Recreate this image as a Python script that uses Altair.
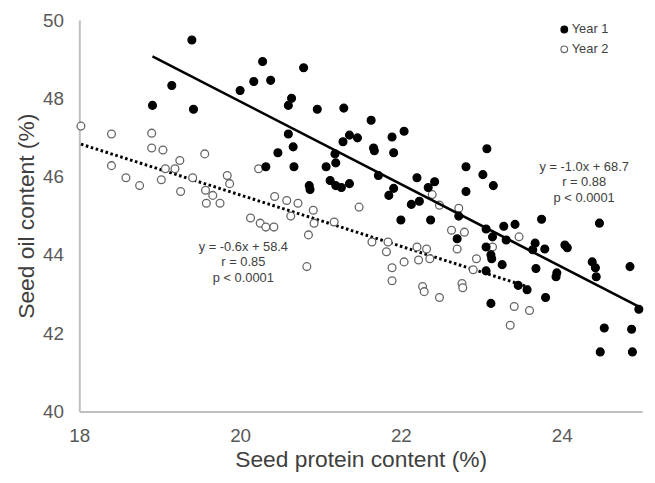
import altair as alt
import pandas as pd

# ---- data ----
series_names = ["Year 1", "Year 2"]

year1_protein = [19.40, 19.15, 18.91, 19.42, 20.00, 20.17, 20.28, 20.38, 20.79, 20.64,
                 20.60, 20.96, 21.29, 21.63, 22.04, 21.89, 21.36, 21.46, 21.28, 20.60,
                 20.66, 20.47, 21.66, 21.67, 21.91, 21.18, 21.19, 20.32, 20.67, 21.07,
                 20.86, 20.87, 21.12, 21.19, 21.26, 21.36, 21.72, 21.91, 21.85, 22.20,
                 22.42, 22.34, 22.23, 22.13, 22.00, 22.37, 22.81, 23.07, 23.02, 23.15,
                 22.81, 22.72, 22.70, 23.06, 23.28, 23.42, 23.14, 23.06, 23.12, 23.13,
                 23.31, 23.26, 23.06, 23.75, 23.67, 23.64, 23.79, 24.04, 24.07, 24.47,
                 23.68, 23.94, 23.93, 24.38, 24.42, 24.43, 24.85, 23.46, 23.57, 23.80,
                 23.12, 24.96, 24.53, 24.87, 24.48, 24.88]
year1_oil = [49.49, 48.33, 47.82, 47.72, 48.20, 48.43, 48.94, 48.46, 48.78, 48.00,
             47.82, 47.72, 47.75, 47.44, 47.16, 47.01, 47.06, 46.99, 46.89, 47.09,
             46.76, 46.61, 46.73, 46.66, 46.61, 46.58, 46.35, 46.25, 46.25, 46.25,
             45.77, 45.67, 45.90, 45.77, 45.72, 45.82, 46.03, 45.70, 45.52, 45.97,
             45.87, 45.72, 45.37, 45.29, 44.89, 44.89, 46.25, 46.71, 46.05, 45.77,
             45.62, 44.99, 44.41, 44.66, 44.73, 44.78, 44.46, 44.20, 44.00, 43.90,
             44.38, 43.75, 43.59, 44.91, 44.30, 44.13, 44.15, 44.25, 44.18, 44.81,
             43.65, 43.54, 43.44, 43.82, 43.67, 43.44, 43.70, 43.22, 43.11, 42.91,
             42.76, 42.61, 42.13, 42.10, 41.52, 41.52]

year2_protein = [18.02, 18.40, 18.90, 18.90, 19.04, 18.40, 18.58, 18.75, 19.02, 19.07,
                 19.19, 19.25, 19.26, 19.41, 19.56, 19.57, 19.58, 19.66, 19.75, 19.84,
                 19.87, 20.23, 20.13, 20.25, 20.32, 20.42, 20.43, 20.58, 20.63, 20.72,
                 20.91, 20.85, 20.92, 20.83, 21.17, 21.48, 21.64, 21.84, 21.82, 21.89,
                 21.89, 22.04, 22.20, 22.32, 22.22, 22.36, 22.27, 22.29, 22.48, 22.63,
                 22.79, 22.70, 22.76, 22.77, 22.94, 22.90, 23.14, 23.47, 23.41, 23.60,
                 23.36, 22.48, 22.72, 22.39]
year2_oil = [47.29, 47.09, 47.11, 46.73, 46.68, 46.28, 45.97, 45.77, 45.92, 46.20,
             46.20, 46.41, 45.62, 45.97, 46.58, 45.65, 45.32, 45.52, 45.32, 46.03,
             45.82, 46.20, 44.94, 44.81, 44.71, 44.71, 45.49, 45.39, 44.99, 45.32,
             45.14, 44.51, 44.81, 43.70, 44.84, 45.22, 44.33, 44.33, 44.08, 43.67,
             43.34, 43.82, 44.20, 44.15, 43.87, 43.90, 43.19, 43.06, 42.91, 44.63,
             44.58, 44.15, 43.27, 43.16, 43.90, 43.62, 44.20, 44.46, 42.68, 42.58,
             42.20, 45.27, 45.19, 45.54]

x_ticks = [18, 20, 22, 24]
y_ticks = [40, 42, 44, 46, 48, 50]

year1_stats = ["y = -1.0x + 68.7", "r = 0.88", "p < 0.0001"]
year2_stats = ["y = -0.6x + 58.4", "r = 0.85", "p < 0.0001"]

# ---- tables ----
df = pd.concat([
    pd.DataFrame({"protein": year2_protein, "oil": year2_oil, "year": series_names[1]}),
    pd.DataFrame({"protein": year1_protein, "oil": year1_oil, "year": series_names[0]}),
], ignore_index=True)

ann = pd.DataFrame({
    "x": [24.28] * 3 + [20.04] * 3,
    "y": [46.25, 45.85, 45.44, 44.20, 43.82, 43.42],
    "label": year1_stats + year2_stats,
})

FONT = "Liberation Sans"
x_scale = alt.Scale(domain=[18, 25], nice=False, zero=False)
y_scale = alt.Scale(domain=[40, 50], nice=False, zero=False)

x_axis = alt.Axis(values=x_ticks, ticks=False, grid=False, domainColor="#bfbfbf",
                  domainWidth=2, labelFontSize=19, labelColor="#595959", labelPadding=15,
                  labelFont=FONT, titleFont=FONT, titleFontSize=23, titleColor="#404040",
                  titleFontWeight="normal", titlePadding=4, format="d", labelFlush=False)
y_axis = alt.Axis(values=y_ticks, ticks=False, grid=False, domainColor="#bfbfbf",
                  domainWidth=2, labelFontSize=19, labelColor="#595959", labelPadding=16,
                  labelFont=FONT, titleFont=FONT, titleFontSize=23, titleColor="#404040",
                  titleFontWeight="normal", titlePadding=4, format="d", labelFlush=False)

X = alt.X("protein:Q", scale=x_scale, axis=x_axis, title="Seed protein content (%)")
Y = alt.Y("oil:Q", scale=y_scale, axis=y_axis, title="Seed oil content (%)")

legend = alt.Legend(title=None, orient="none", legendX=483, legendY=3,
                    labelFont=FONT, labelFontSize=13, labelColor="#404040",
                    symbolType="circle", symbolSize=45, symbolStrokeWidth=1.2,
                    rowPadding=6, labelOffset=1)

points = alt.Chart(df).mark_circle(opacity=1, size=62, strokeWidth=1.3).encode(
    x=X, y=Y,
    fill=alt.Fill("year:N", scale=alt.Scale(domain=series_names, range=["#000000", "#ffffff"]),
                  legend=legend),
    stroke=alt.Stroke("year:N", scale=alt.Scale(domain=series_names, range=["#000000", "#666666"]),
                      legend=legend),
)

reg1 = alt.Chart(df).transform_filter(alt.datum.year == series_names[0]).transform_regression(
    "protein", "oil").mark_line(color="black", strokeWidth=2.6).encode(
    x=alt.X("protein:Q", scale=x_scale), y=alt.Y("oil:Q", scale=y_scale))

reg2 = alt.Chart(df).transform_filter(alt.datum.year == series_names[1]).transform_regression(
    "protein", "oil").mark_line(color="black", strokeWidth=3, strokeDash=[2.6, 2.6]).encode(
    x=alt.X("protein:Q", scale=x_scale), y=alt.Y("oil:Q", scale=y_scale))

texts = alt.Chart(ann).mark_text(font=FONT, fontSize=13, color="#404040", align="center").encode(
    x=alt.X("x:Q", scale=x_scale), y=alt.Y("y:Q", scale=y_scale), text="label:N")

chart = alt.layer(reg2, points, reg1, texts).properties(
    width=568, height=395,
    autosize=alt.AutoSizeParams(type="none"),
    padding={"left": 72, "top": 10, "right": 5, "bottom": 60},
    background="white",
).configure_view(stroke=None)

chart.save("out.html", embed_options={"renderer": "svg", "actions": False})
